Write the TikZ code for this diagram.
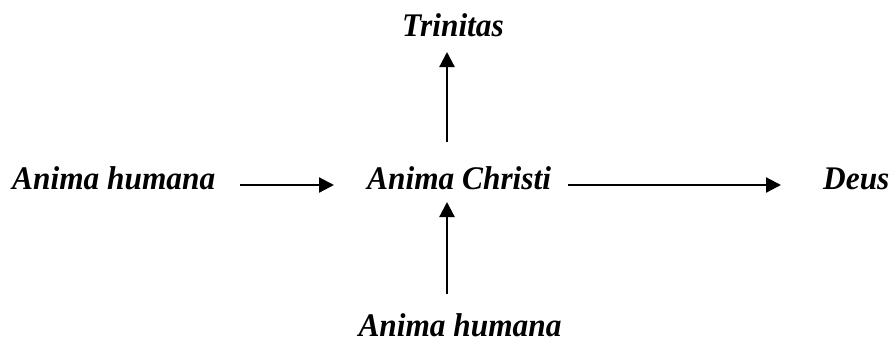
\documentclass[tikz,border=0pt]{standalone}
\usepackage{fontspec}
\setmainfont{Liberation Serif}
\usetikzlibrary{arrows.meta}
\newcommand{\lbltext}[1]{\scalebox{0.95}[1]{#1}}
\tikzset{
  lbl/.style={inner sep=0pt, font=\fontsize{33}{40}\selectfont\bfseries\itshape},
  arr/.style={line width=2.2pt, -{Triangle[length=15pt,width=15pt]}}
}
\begin{document}
\begin{tikzpicture}[x=1pt,y=-1pt]
\useasboundingbox (0,0) rectangle (893,345);
\node[lbl, anchor=base west] (ah) at (12,189) {\lbltext{Anima humana}};
\node[lbl, anchor=base west] (ac) at (367,189) {\lbltext{Anima Christi}};
\node[lbl, anchor=base west] (de) at (823,189) {\lbltext{Deus}};
\node[lbl, anchor=base] (tr) at (453,37) {\lbltext{Trinitas}};
\node[lbl, anchor=base] (ab) at (460,336) {\lbltext{Anima humana}};
\coordinate (h1s) at (240,185);
\coordinate (h1e) at (334,185);
\coordinate (h2s) at (568,185);
\coordinate (h2e) at (781,185);
\coordinate (v1s) at (447,142);
\coordinate (v1e) at (447,52);
\coordinate (v2s) at (447,294);
\coordinate (v2e) at (447,202);
\draw[arr] (h1s) -- (h1e);
\draw[arr] (h2s) -- (h2e);
\draw[arr] (v1s) -- (v1e);
\draw[arr] (v2s) -- (v2e);
\end{tikzpicture}
\end{document}
